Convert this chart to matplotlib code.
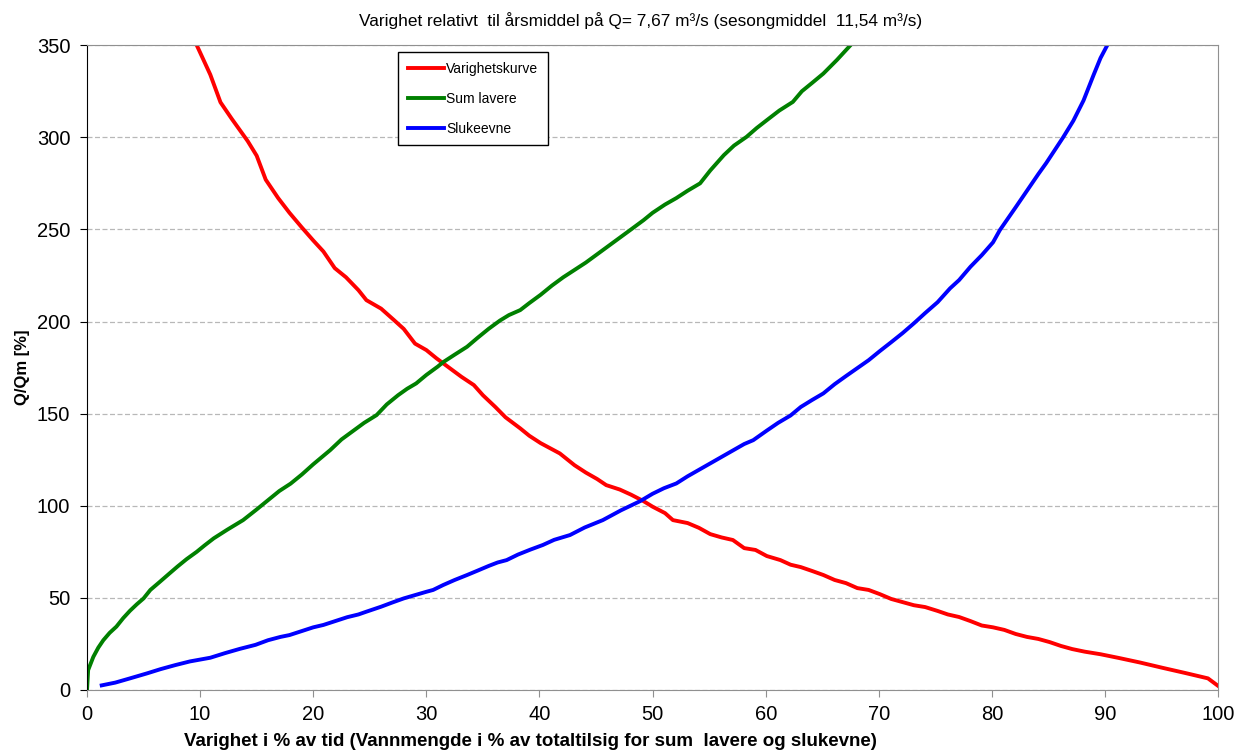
import matplotlib.pyplot as plt

plt.rcParams['font.family'] = ['Liberation Sans', 'DejaVu Sans']

# Varighetskurve (duration curve)
var_x = [9.7, 10.9, 11.8, 12.8, 14.2, 15.0, 15.8, 16.9, 17.9, 19.0, 20.0, 20.9, 21.9, 22.9,
         24.0, 24.7, 26.0, 27.1, 28.0, 29.0, 30.0, 30.9, 32.0, 33.1, 34.2, 35.0, 36.1, 37.0,
         38.3, 39.1, 40.1, 41.8, 43.1, 44.1, 45.1, 45.9, 47.1, 48.1, 49.2, 50.0, 51.1,
         51.8, 53.1, 54.1, 55.1, 56.1, 57.1, 58.1, 59.1, 60.1, 61.3, 62.2, 63.1, 64.1, 65.1,
         66.1, 67.1, 68.1, 69.1, 70.1, 71.1, 72.1, 73.1, 74.1, 75.2, 76.1, 77.1, 78.1, 79.1,
         80.1, 81.1, 82.1, 83.1, 84.1, 85.1, 86.1, 87.1, 88.2, 89.6, 91.2, 93.1, 95.1,
         97.1, 99.1, 100.0]
var_y = [350, 334, 319, 310, 298, 290, 277, 267, 259, 251, 244, 238, 229, 224,
         217, 211.6, 207, 201, 196, 188, 184.5, 180, 175, 170, 165.5, 160, 153.6, 148,
         142, 138, 134, 128.4, 122, 118, 114.5, 111.2, 108.8, 106, 102.5, 99.5, 96,
         92.2, 90.6, 88, 84.6, 82.8, 81.4, 77, 76, 72.7, 70.5, 68, 66.7, 64.6, 62.4,
         59.7, 58, 55.3, 54.3, 52, 49.4, 47.7, 46, 45, 42.9, 41, 39.6, 37.4, 35,
         34, 32.6, 30.4, 28.8, 27.7, 26, 23.9, 22.2, 20.8, 19.4, 17.4, 14.9, 12.0,
         9.2, 6.3, 2.2]

# Sum lavere
sum_x = [0.0, 0.1, 0.56, 1.0, 1.44, 2.0, 2.6, 3.2, 3.8, 4.4, 5.0, 5.6, 6.4, 7.3, 8.0, 8.8,
         9.7, 10.4, 11.2, 12.4, 13.8, 15.0, 16.0, 17.0, 18.0, 19.0, 20.0, 21.5, 22.5, 23.5,
         24.5, 25.6, 26.5, 27.5, 28.3, 29.1, 30.0, 31.0, 31.5, 32.5, 33.6, 34.5, 35.5, 36.5,
         37.3, 38.3, 39.1, 40.1, 41.1, 42.1, 43.1, 44.1, 45.1, 46.1, 47.1, 48.1, 49.2, 50.0,
         51.1, 52.1, 53.1, 54.2, 55.1, 56.3, 57.2, 58.3, 59.2, 60.1, 61.2, 62.4, 63.2, 64.1,
         65.1, 66.3, 67.5]
sum_y = [0, 10.8, 18, 23, 27, 31, 34.4, 39, 43, 46.5, 49.7, 54.3, 58.5, 63.3, 67, 71,
         75, 78.5, 82.3, 87, 92.2, 98, 103, 108, 112, 117, 122.5, 130.2, 136, 140.5,
         145, 149.2, 155, 160, 163.5, 166.4, 171, 175.5, 178, 182, 186.3, 191, 196, 200.5,
         203.5, 206.2, 210, 214.5, 219.5, 224, 228, 232, 236.5, 241, 245.5, 250, 255, 259,
         263.5, 267, 271, 275, 282, 290.3, 295.5, 300.2, 305, 309.3, 314.5, 319.2, 325, 329.5,
         334.6, 342, 350]

# Slukeevne
sluk_x = [1.3, 2.5, 3.8, 5.3, 6.5, 7.8, 9.1, 10.9, 12.2, 13.5, 14.9, 16.0, 17.1, 17.9, 19.0,
          20.0, 20.9, 22.0, 23.0, 24.0, 24.7, 26.0, 27.0, 28.0, 29.0, 30.0, 30.6, 31.5, 32.5,
          33.6, 34.5, 35.5, 36.3, 37.1, 38.1, 39.2, 40.3, 41.3, 42.7, 44.0, 45.6, 47.2, 48.9,
          50.0, 51.0, 52.1, 53.1, 54.1, 55.1, 56.1, 57.1, 58.1, 58.9, 60.1, 61.1, 62.2, 63.1,
          64.1, 65.1, 66.1, 67.1, 68.1, 69.1, 70.1, 71.1, 72.1, 73.1, 74.1, 75.2, 76.3, 77.1,
          78.1, 79.1, 80.1, 80.7, 82.1, 83.1, 84.1, 84.8, 86.3, 87.2, 88.1, 89.0, 89.6, 90.2]
sluk_y = [2.5, 4.0, 6.3, 9.0, 11.3, 13.5, 15.5, 17.5, 20, 22.3, 24.5, 27, 28.8, 29.8, 32.0,
          34.0, 35.3, 37.5, 39.5, 41.0, 42.5, 45.2, 47.5, 49.7, 51.5, 53.3, 54.3, 57, 59.7,
          62.4, 64.7, 67.3, 69.2, 70.5, 73.5, 76.2, 78.7, 81.5, 84.1, 88.2, 92.2, 97.5, 102.5,
          106.5, 109.5, 112.1, 116, 119.5, 123, 126.5, 130, 133.5, 135.6, 140.8, 145, 149, 153.6,
          157.4, 161, 166, 170.4, 174.7, 179, 184, 188.8, 193.7, 199, 204.6, 210.5, 218, 222.5,
          229.7, 236, 243, 249.6, 262, 271, 280, 286, 300, 309, 320, 334, 343, 350]

fig = plt.figure(figsize=(12.43, 7.53), dpi=100)
ax = fig.add_axes([0.070, 0.0837, 0.910, 0.8563])

ax.plot(var_x, var_y, color='#ff0000', lw=2.8, label='Varighetskurve')
ax.plot(sum_x, sum_y, color='#008000', lw=2.8, label='Sum lavere')
ax.plot(sluk_x, sluk_y, color='#0000ff', lw=2.8, label='Slukeevne')

ax.set_xlim(0, 100)
ax.set_ylim(0, 350)
ax.set_xticks(range(0, 101, 10))
ax.set_yticks(range(0, 351, 50))
ax.yaxis.grid(True, color='#b8b8b8', linestyle=(0, (4, 2)), lw=0.9)
ax.set_axisbelow(True)

for s in ['top', 'right', 'bottom']:
    ax.spines[s].set_color('#909090')
ax.spines['left'].set_color('black')
ax.tick_params(axis='x', colors='#909090', labelcolor='black', labelsize=14.5, length=5, pad=6)
ax.tick_params(axis='y', colors='black', labelsize=14.5, length=5, pad=7)

ax.set_title('Varighet relativt  til årsmiddel på Q= 7,67 m³/s (sesongmiddel  11,54 m³/s)',
             fontsize=12.4, pad=14, x=0.489)
ax.set_xlabel('Varighet i % av tid (Vannmengde i % av totaltilsig for sum  lavere og slukevne)',
              fontsize=13.5, fontweight='bold')
ax.xaxis.set_label_coords(0.392, -0.066)
ax.set_ylabel('Q/Qm [%]', fontsize=12, fontweight='bold', labelpad=5)

leg = ax.legend(loc='upper left', bbox_to_anchor=(0.2752, 0.9896), fontsize=10,
                fancybox=False, framealpha=1, edgecolor='black', handlelength=2.6,
                handletextpad=0.15, labelspacing=1.15, borderpad=0.7, borderaxespad=0)
leg.get_frame().set_linewidth(1.0)

fig.savefig('out.png', dpi=100)
